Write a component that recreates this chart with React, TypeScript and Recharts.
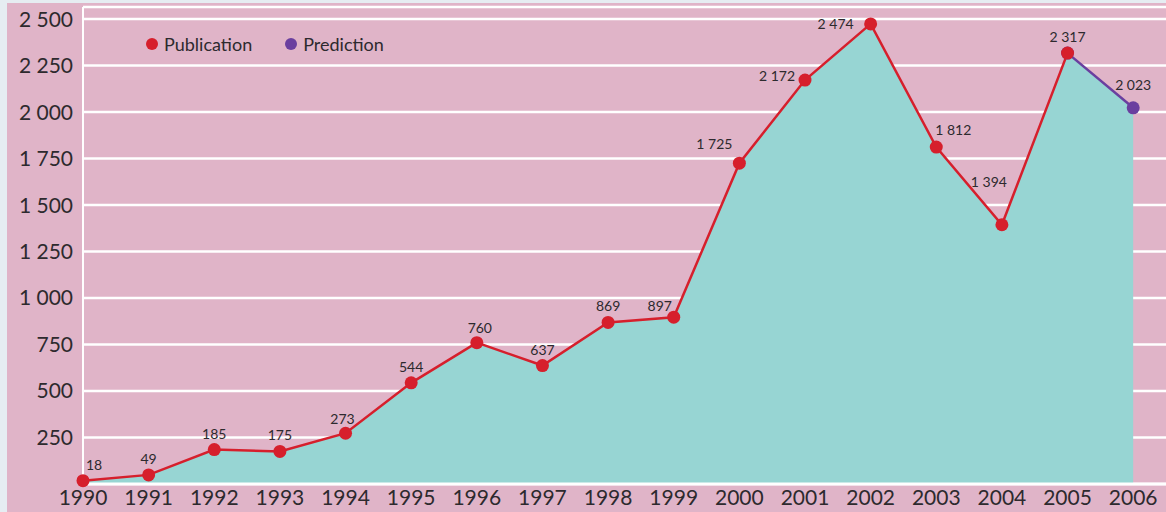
import React from 'react';
import {
  ComposedChart,
  Area,
  Line,
  XAxis,
  YAxis,
  CartesianGrid,
  Legend,
  LabelList
} from 'recharts';

const years = [1990, 1991, 1992, 1993, 1994, 1995, 1996, 1997, 1998, 1999, 2000, 2001, 2002, 2003, 2004, 2005, 2006];
const publications = [18, 49, 185, 175, 273, 544, 760, 637, 869, 897, 1725, 2172, 2474, 1812, 1394, 2317];
const predictions = [2023];
const yTicks = [250, 500, 750, 1000, 1250, 1500, 1750, 2000, 2250, 2500];
const legendItems = [
  { name: 'Publication', color: '#d61f2c' },
  { name: 'Prediction', color: '#6a3f9f' }
];

const PINK = '#e0b4c8';
const TEAL = '#97d5d3';
const RED = '#d61f2c';
const PURPLE = '#6a3f9f';
const TEXT = '#2d2a2e';
const FONT = 'Lato, "Open Sans", sans-serif';

const data = years.map((year, i) => {
  const pub = i < publications.length ? publications[i] : null;
  let pred: number | null = null;
  if (i === publications.length - 1) pred = publications[i];
  if (i >= publications.length) pred = predictions[i - publications.length];
  return { year, publication: pub, prediction: pred, total: pub ?? pred };
});

// label nudges (dx, dy to baseline) so they sit like the original
const labelOffsets: Record<number, [number, number]> = {
  1990: [11, -11],
  1994: [-3, -9],
  1996: [3, -10],
  1999: [-14, -6],
  2000: [-25, -14],
  2001: [-28, 1],
  2002: [-35, 5],
  2003: [17, -12],
  2004: [-13, -38],
  2006: [0, -18]
};

const fmt = (v: number) => {
  const s = String(v);
  return s.length > 3 ? `${s.slice(0, s.length - 3)} ${s.slice(-3)}` : s;
};

const renderLabel = (props: any) => {
  const { x, y, value, index } = props;
  if (value == null) return null;
  const year = years[index];
  const [dx, dy] = labelOffsets[year] ?? [0, -11];
  return (
    <text
      x={x + dx}
      y={y + dy}
      textAnchor="middle"
      fontSize={14}
      fontFamily={FONT}
      fill={TEXT}
    >
      {fmt(value)}
    </text>
  );
};

const renderLegend = () => (
  <div style={{ display: 'flex', alignItems: 'center', fontFamily: FONT, fontSize: 18, color: TEXT, lineHeight: '22px' }}>
    {legendItems.map((item) => (
      <div key={item.name} style={{ display: 'flex', alignItems: 'center', marginRight: 33 }}>
        <span style={{ width: 12, height: 12, borderRadius: 6, background: item.color, marginRight: 6, display: 'inline-block' }} />
        <span>{item.name}</span>
      </div>
    ))}
  </div>
);

const App: React.FC = () => {
  return (
    <div style={{ position: 'absolute', left: 0, top: 0, width: 1166, height: 512, background: '#e6edf2' }}>
      <div style={{ position: 'absolute', left: 7, top: 3, width: 1159, height: 509, background: PINK }}>
        <ComposedChart
          width={1159}
          height={509}
          data={data}
          margin={{ top: 4, right: 0, left: 0, bottom: 0 }}
        >
          <Area
            type="linear"
            dataKey="total"
            fill={TEAL}
            fillOpacity={1}
            stroke="none"
            isAnimationActive={false}
          />
          <CartesianGrid horizontal vertical={false} stroke="#ffffff" strokeWidth={2.5} />
          <XAxis
            dataKey="year"
            type="number"
            domain={[1990, 2006.5]}
            ticks={years}
            interval={0}
            height={28}
            axisLine={{ stroke: '#ffffff', strokeWidth: 3 }}
            tickLine={false}
            tickSize={0}
            tickMargin={6}
            tick={{ fill: TEXT, fontSize: 21, fontFamily: FONT }}
          />
          <YAxis
            width={76}
            domain={[0, 2565]}
            ticks={yTicks}
            interval={0}
            axisLine={{ stroke: '#ffffff', strokeWidth: 2 }}
            tickLine={false}
            tickSize={0}
            tickMargin={10}
            tickFormatter={fmt}
            tick={{ fill: TEXT, fontSize: 21, fontFamily: FONT }}
          />
          <Line
            type="linear"
            dataKey="prediction"
            stroke={PURPLE}
            strokeWidth={2.5}
            dot={{ r: 6.5, fill: PURPLE, stroke: 'none' }}
            connectNulls={false}
            isAnimationActive={false}
          />
          <Line
            type="linear"
            dataKey="publication"
            stroke={RED}
            strokeWidth={2.5}
            dot={{ r: 6.5, fill: RED, stroke: 'none' }}
            connectNulls={false}
            isAnimationActive={false}
          >
          </Line>
          <Line
            type="linear"
            dataKey="total"
            stroke="none"
            dot={false}
            activeDot={false}
            legendType="none"
            isAnimationActive={false}
          >
            <LabelList dataKey="total" content={renderLabel} />
          </Line>
          <Legend
            layout="horizontal"
            verticalAlign="middle"
            align="center"
            wrapperStyle={{ top: 30, left: 139, width: 'auto' }}
            content={renderLegend}
          />
        </ComposedChart>
      </div>
    </div>
  );
};

export default App;
